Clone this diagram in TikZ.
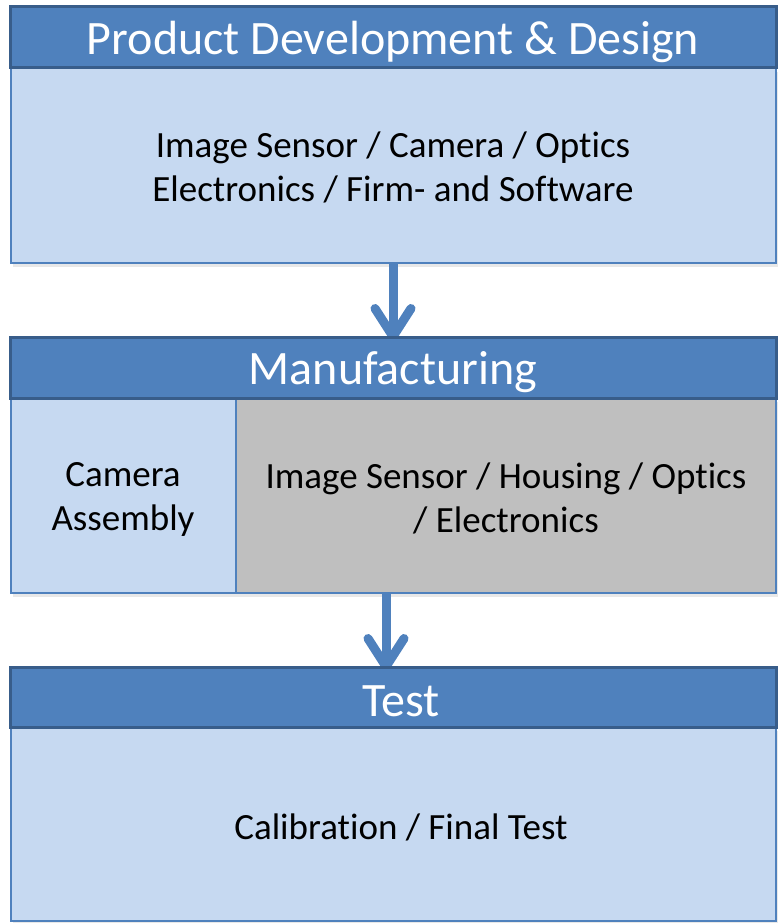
\documentclass[tikz,border=0pt]{standalone}
\usepackage{fontspec}
\setmainfont{Carlito}[Ligatures={NoCommon}]
\usetikzlibrary{arrows.meta,shadows}
\definecolor{hdrfill}{HTML}{4F81BD}
\definecolor{hdrline}{HTML}{385D8A}
\definecolor{bodyfill}{HTML}{C6D9F1}
\definecolor{bodyline}{HTML}{4F81BD}
\definecolor{grayfill}{HTML}{BFBFBF}
\tikzset{
  hdr/.style={draw=hdrline, fill=hdrfill, line width=3pt},
  bodybox/.style={draw=bodyline, fill=bodyfill, line width=2pt},
  graybox/.style={draw=bodyline, fill=grayfill, line width=2pt},
  shad/.style={drop shadow={opacity=0.18, shadow xshift=2pt, shadow yshift=-4pt}},
  hdrtext/.style={text=white, font=\fontsize{48}{56}\selectfont, inner sep=0pt},
  bodytext/.style={text=black, font=\fontsize{37}{44}\selectfont, align=center, inner sep=0pt},
  flow/.style={draw=hdrfill, line width=9pt,
    -{Straight Barb[length=28pt, width=36pt, round]}},
}
\begin{document}
\begin{tikzpicture}[x=1pt, y=-1pt]
\useasboundingbox (0,0) rectangle (778,923);
% Section 1
\path[bodybox, shad] (11,68) rectangle (776,263);
\path[hdr] (10,7) rectangle (776,68);
\node[hdrtext] (h1) at (393,42) {Product Development \& Design};
\node[bodytext] (b1) at (393,167) {Image Sensor / Camera / Optics\\Electronics / Firm- and Software};
\coordinate (b1s) at (393,264);
% Section 2
\path[bodybox, shad] (11,398) rectangle (236,593);
\path[graybox, shad] (236,398) rectangle (776,593);
\coordinate (h2n) at (393,337);
\coordinate (b2s) at (386,594);
\coordinate (h3n) at (386,667);
% Arrows
\draw[flow] (b1s) -- ([yshift=-4pt]h2n);
\draw[flow] (b2s) -- ([yshift=-4pt]h3n);
\path[hdr] (10,337) rectangle (776,398);
\node[hdrtext] (h2) at (393,372) {Manufacturing};
\node[bodytext] (b2l) at (123,499) {Camera\\Assembly};
\node[bodytext] (b2r) at (506,498) {Image Sensor / Housing / Optics\\/ Electronics};
% Section 3
\path[bodybox, shad] (11,727) rectangle (776,921);
\path[hdr] (10,667) rectangle (776,727);
\node[hdrtext] (h3) at (401,701) {Test};
\node[bodytext] (b3) at (401,827) {Calibration / Final Test};
\end{tikzpicture}
\end{document}
